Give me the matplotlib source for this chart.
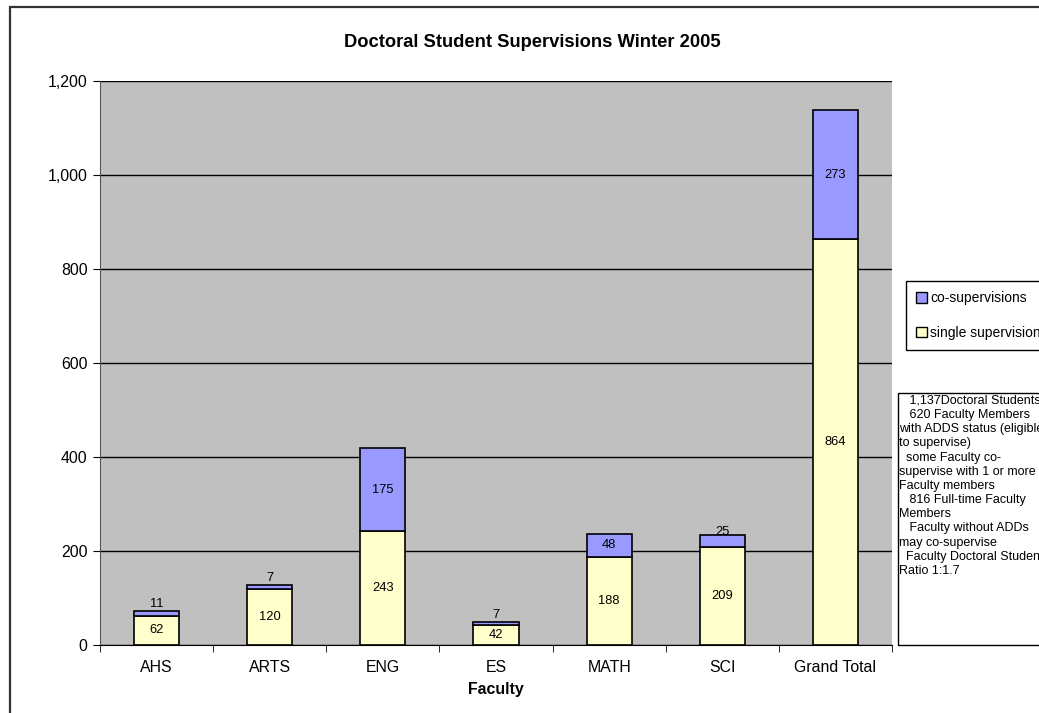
import matplotlib
matplotlib.use("Agg")
import matplotlib.pyplot as plt
from matplotlib.patches import Rectangle, Patch
import numpy as np

faculties = ["AHS", "ARTS", "ENG", "ES", "MATH", "SCI", "Grand Total"]
single_sup = [62, 120, 243, 42, 188, 209, 864]
co_sup = [11, 7, 175, 7, 48, 25, 273]
y_ticks = [0, 200, 400, 600, 800, 1000, 1200]

note_lines = [
    "   1,137Doctoral Students",
    "   620 Faculty Members",
    "with ADDS status (eligible",
    "to supervise)",
    "  some Faculty co-",
    "supervise with 1 or more",
    "Faculty members",
    "   816 Full-time Faculty",
    "Members",
    "   Faculty without ADDs",
    "may co-supervise",
    "  Faculty Doctoral Students",
    "Ratio 1:1.7",
]

plt.rcParams["font.family"] = ["Liberation Sans", "DejaVu Sans"]

W, H = 1039, 713
fig = plt.figure(figsize=(W / 100, H / 100), dpi=100)

def px_box(x0, y0, x1, y1):
    # pixel box (top-left origin) -> figure fraction rect
    return [x0 / W, 1 - y1 / H, (x1 - x0) / W, (y1 - y0) / H]

# outer chart frame (right and bottom run off the picture)
fig.patches.append(Rectangle((10 / W, -0.05), 1.1, 1 - 7 / H + 0.05,
                             transform=fig.transFigure, fill=False,
                             edgecolor="#333333", linewidth=1.6))

ax = fig.add_axes(px_box(100, 80.7, 892, 645))
ax.set_facecolor("#C0C0C0")

x = np.arange(len(faculties))
width = 0.4
ax.bar(x, single_sup, width, color="#FFFFCC", edgecolor="black",
       linewidth=1.2, label="single supervisions", zorder=3)
ax.bar(x, co_sup, width, bottom=single_sup, color="#9999FF",
       edgecolor="black", linewidth=1.2, label="co-supervisions", zorder=3)

for i in range(len(faculties)):
    ax.annotate(str(single_sup[i]), (x[i], single_sup[i] / 2),
                ha="center", va="center", fontsize=9.3, zorder=4)
    mid = single_sup[i] + co_sup[i] / 2
    off = 6.5 if co_sup[i] < 30 else 0
    ax.annotate(str(co_sup[i]), (x[i], mid), xytext=(0, off),
                textcoords="offset points", ha="center", va="center",
                fontsize=9.3, zorder=4)

ax.set_xlim(-0.5, len(faculties) - 0.5)
ax.set_ylim(0, 1200)
ax.set_yticks(y_ticks)
ax.set_yticklabels(["{:,}".format(v) for v in y_ticks], fontsize=11.4)
ax.yaxis.grid(True, color="black", linewidth=1.0, zorder=1)
ax.set_axisbelow(True)

ax.set_xticks(x)
ax.set_xticklabels(faculties, fontsize=11.4)
ax.tick_params(axis="x", length=0, pad=11)
ax.set_xticks(np.arange(len(faculties) + 1) - 0.5, minor=True)
ax.tick_params(axis="x", which="minor", length=5, color="black")
ax.tick_params(axis="y", length=5, pad=4, color="black")
ax.set_xlabel("Faculty", fontsize=11.4, fontweight="bold", labelpad=5)

for side in ["top", "right"]:
    ax.spines[side].set_visible(False)
ax.spines["left"].set_color("#555555")
ax.spines["bottom"].set_color("black")

fig.text(532 / W, 1 - 47 / H, "Doctoral Student Supervisions Winter 2005",
         ha="center", va="baseline", fontsize=13.2, fontweight="bold")

# legend
handles = [Patch(facecolor="#9999FF", edgecolor="black", label="co-supervisions"),
           Patch(facecolor="#FFFFCC", edgecolor="black", label="single supervisions")]
leg = fig.legend(handles=handles, loc="upper left",
                 bbox_to_anchor=(906 / W, 1 - 281 / H), fontsize=10,
                 handlelength=0.75, handleheight=0.75, handletextpad=0.25,
                 labelspacing=1.45, borderpad=0.75, borderaxespad=0,
                 fancybox=False, framealpha=1, edgecolor="black")
leg.get_frame().set_linewidth(1.0)

# note box
fig.patches.append(Rectangle((898 / W, 1 - 645 / H), 0.2, (645 - 393) / H,
                             transform=fig.transFigure, fill=False,
                             edgecolor="black", linewidth=1.0))
fig.text(899 / W, 1 - 395 / H, "\n".join(note_lines), ha="left", va="top",
         fontsize=9, linespacing=1.24)

fig.savefig("out.png", dpi=100)
